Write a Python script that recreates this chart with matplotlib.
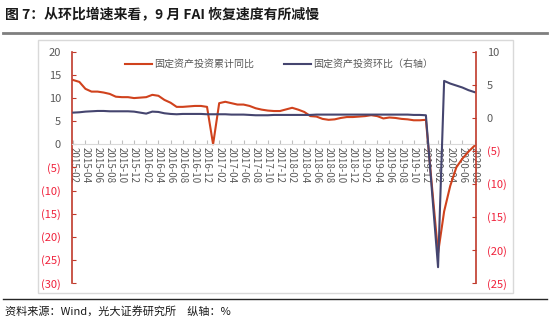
import numpy as np
import pandas as pd
import matplotlib
matplotlib.use('Agg')
import matplotlib.pyplot as plt
from matplotlib.lines import Line2D
from matplotlib.patches import Rectangle

plt.rcParams['font.family'] = ['Noto Sans CJK SC', 'DejaVu Sans']
plt.rcParams['axes.unicode_minus'] = False

nan = np.nan
# 月份：2015-02 ~ 2020-08
months = [p.strftime('%Y-%m') for p in pd.period_range('2015-02', '2020-08', freq='M')]

# 固定资产投资累计同比（左轴，%），1月无数据
yoy_2015 = [13.9, 13.5, 12.0, 11.4, 11.4, 11.2, 10.9, 10.3, 10.2, 10.2, 10.0]
yoy_2016 = [nan, 10.2, 10.7, 10.5, 9.6, 9.0, 8.1, 8.1, 8.2, 8.3, 8.3, 8.1]
yoy_2017 = [0.0, 8.9, 9.2, 8.9, 8.6, 8.6, 8.3, 7.8, 7.5, 7.3, 7.2, 7.2]
yoy_2018 = [nan, 7.9, 7.5, 7.0, 6.1, 6.0, 5.5, 5.3, 5.4, 5.7, 5.9, 5.9]
yoy_2019 = [nan, 6.1, 6.3, 6.1, 5.6, 5.8, 5.7, 5.5, 5.4, 5.2, 5.2, 5.3]
yoy_2020 = [nan, -23.5, -14.5, -9.0, -5.0, -3.1, -1.6, -0.3]

# 固定资产投资环比（右轴，%）
mom_2015 = [0.80, 0.85, 0.95, 1.0, 1.05, 1.05, 1.0, 1.0, 1.0, 1.0, 0.95]
mom_2016 = [nan, 0.65, 0.95, 0.9, 0.7, 0.6, 0.55, 0.6, 0.6, 0.6, 0.6, 0.55]
mom_2017 = [nan, 0.55, 0.55, 0.5, 0.5, 0.5, 0.45, 0.4, 0.4, 0.4, 0.45, 0.45]
mom_2018 = [nan, 0.45, 0.45, 0.45, 0.45, 0.5, 0.5, 0.5, 0.5, 0.5, 0.5, 0.5]
mom_2019 = [nan, 0.5, 0.5, 0.5, 0.5, 0.5, 0.5, 0.5, 0.5, 0.45, 0.45, 0.4]
mom_2020 = [nan, -22.6, 5.6, 5.2, 4.9, 4.6, 4.2, 3.9]

yoy = np.array(yoy_2015 + yoy_2016 + yoy_2017 + yoy_2018 + yoy_2019 + yoy_2020)
mom = np.array(mom_2015 + mom_2016 + mom_2017 + mom_2018 + mom_2019 + mom_2020)

label_yoy = '固定资产投资累计同比'
label_mom = '固定资产投资环比（右轴）'

red = '#D0421D'
navy = '#45456F'
spine_red = '#C0392B'
neg_red = '#F0203A'
gray = '#595959'


def fmt(v):
    return '(%d)' % abs(v) if v < 0 else '%d' % v


fig = plt.figure(figsize=(5.5, 3.22), dpi=100)

# 外框、标题、分隔线
fig.patches.append(Rectangle((0.069, 0.090), 0.864, 0.786, transform=fig.transFigure,
                             fill=False, edgecolor='#D9D9D9', linewidth=1))
fig.text(0.009, 0.953, '图 7：从环比增速来看，9 月 FAI 恢复速度有所减慢',
         fontsize=10, fontweight='bold', color='#1a1a1a', va='center')
fig.add_artist(Line2D([0.006, 0.994], [0.897, 0.897], color='#7f7f7f', linewidth=2,
                      transform=fig.transFigure))
fig.add_artist(Line2D([0.006, 0.994], [0.071, 0.071], color='#262626', linewidth=1,
                      transform=fig.transFigure))
fig.text(0.009, 0.034, '资料来源：Wind，光大证券研究所　纵轴：%', fontsize=8,
         color='#1a1a1a', va='center')

ax = fig.add_axes([0.131, 0.121, 0.734, 0.718])
ax2 = ax.twinx()

x = np.arange(len(months))
m1 = ~np.isnan(yoy)
m2 = ~np.isnan(mom)
l1, = ax.plot(x[m1], yoy[m1], color=red, linewidth=1.5)
l2, = ax2.plot(x[m2], mom[m2], color=navy, linewidth=1.5)

ax.set_xlim(-0.2, len(months) - 0.8)
ax.set_ylim(-30, 20)
ax2.set_ylim(-25, 10)

# x轴放在0处
ax.spines['bottom'].set_position(('data', 0))
ax.spines['bottom'].set_color('#D9D9D9')
ax.spines['top'].set_visible(False)
ax.spines['right'].set_visible(False)
ax.spines['left'].set_color(spine_red)
ax.spines['left'].set_linewidth(1.2)
for s in ['top', 'bottom', 'left']:
    ax2.spines[s].set_visible(False)
ax2.spines['right'].set_color(spine_red)
ax2.spines['right'].set_linewidth(1.2)

ax.set_xticks(x[::2])
ax.set_xticklabels(months[::2], rotation=-90, fontsize=7, color=gray)
ax.tick_params(axis='x', direction='in', length=3, color='#BFBFBF', pad=2)

lt = np.arange(-30, 21, 5)
ax.set_yticks(lt)
ax.set_yticklabels([fmt(v) for v in lt], fontsize=8)
for t, v in zip(ax.get_yticklabels(), lt):
    t.set_color(neg_red if v < 0 else gray)
ax.tick_params(axis='y', direction='in', length=3, color=spine_red, pad=8)

rt = np.arange(-25, 11, 5)
ax2.set_yticks(rt)
ax2.set_yticklabels([fmt(v) for v in rt], fontsize=8)
for t, v in zip(ax2.get_yticklabels(), rt):
    t.set_color(neg_red if v < 0 else gray)
ax2.tick_params(axis='y', direction='in', length=3, color=spine_red, pad=8)

fig.legend([l1, l2], [label_yoy, label_mom], loc='center', bbox_to_anchor=(0.507, 0.801),
           ncol=2, frameon=False, fontsize=7.2, handlelength=2.7, handletextpad=0.2,
           columnspacing=3.0, labelcolor=gray)

fig.savefig('out.png', dpi=100)
